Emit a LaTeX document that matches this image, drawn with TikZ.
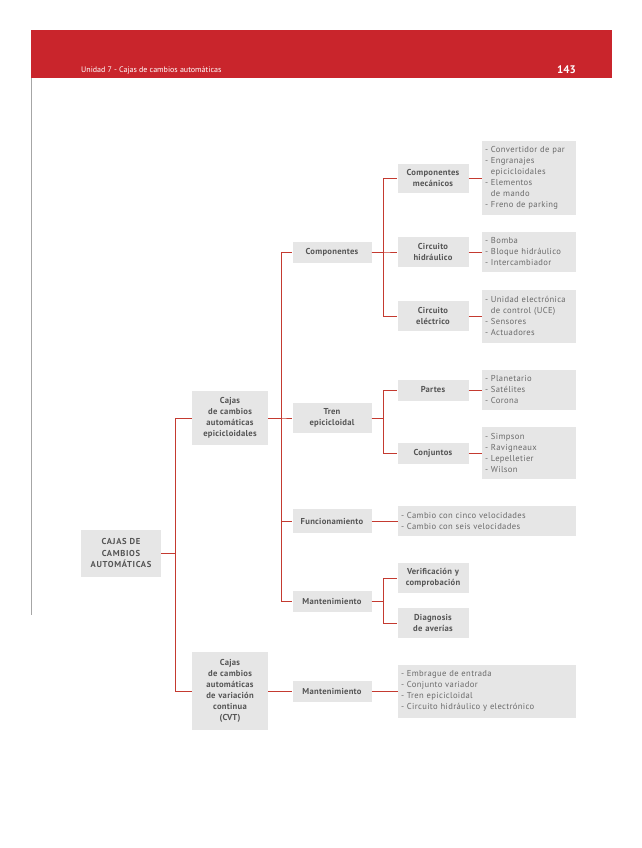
\documentclass[tikz,border=0pt]{standalone}
\usepackage{fontspec}
\setsansfont{PT Sans}
\usepackage{tikz}
\usetikzlibrary{positioning}
\definecolor{libroRed}{HTML}{C9252C}
\definecolor{libroLink}{HTML}{C43A30}
\definecolor{libroBox}{HTML}{E6E6E6}
\definecolor{libroInk}{HTML}{555555}
\definecolor{libroText}{HTML}{6A6A6A}

\begin{document}
\begin{tikzpicture}[
  x=1pt, y=-1pt,
  font=\sffamily\fontsize{8}{11}\selectfont,
  caja/.style={fill=libroBox, text=libroInk, align=center, inner xsep=4pt, inner ysep=0pt,
    font=\sffamily\bfseries\addfontfeatures{LetterSpace=3}\fontsize{8.6}{11}\selectfont},
  raiz/.style={caja, text width=72pt, minimum height=47pt,
    font=\sffamily\bfseries\addfontfeatures{LetterSpace=8}\fontsize{8.6}{11.5}\selectfont},
  tipo/.style={caja, text width=68pt},
  rama/.style={caja, text width=71pt},
  sub/.style={caja, text width=63pt},
  lista/.style={fill=libroBox, text=libroText, align=left, text width=88pt, inner xsep=3pt, inner ysep=0pt,
    font=\sffamily\addfontfeatures{LetterSpace=4}\fontsize{8.6}{11}\selectfont},
  listaw/.style={lista, text width=172pt},
  link/.style={draw=libroLink, line width=1pt}
]
  \useasboundingbox (0,0) rectangle (642,848);

  % page header
  \fill[libroRed] (31,30) rectangle (612,78);
  \draw[black!35, line width=0.8pt] (31,78) -- (31,615);
  \node[anchor=west, text=white, inner sep=0pt, font=\sffamily\fontsize{8}{9}\selectfont] (unidad) at (81,70) {Unidad 7 - Cajas de cambios automáticas};
  \node[anchor=east, text=white, inner sep=0pt, font=\sffamily\bfseries\fontsize{11}{13}\selectfont] (pagina) at (576,70) {143};

  % levels 0 and 1
  \node[raiz] (raiz) at (121,553) {CAJAS DE\\CAMBIOS\\AUTOMÁTICAS};
  \node[tipo, minimum height=54pt] (epi) at (230,418) {Cajas\\de cambios\\automáticas\\epicicloidales};
  \node[tipo, minimum height=78pt] (cvt) at (230,691) {Cajas\\de cambios\\automáticas\\de variación\\continua\\(CVT)};

  % level 2
  \node[rama, minimum height=21pt] (comp) at (332,252) {Componentes};
  \node[rama, minimum height=30pt] (tren) at (332,418) {Tren\\epicicloidal};
  \node[rama, minimum height=24pt] (func) at (332,521) {Funcionamiento};
  \node[rama, minimum height=21pt] (mant) at (332,601) {Mantenimiento};
  \node[rama, minimum height=21pt] (mantcvt) at (332,691) {Mantenimiento};

  % level 3
  \node[sub, minimum height=29pt] (mec) at (433,178) {Componentes\\mecánicos};
  \node[sub, minimum height=30pt] (hid) at (433,252) {Circuito\\hidráulico};
  \node[sub, minimum height=30pt] (ele) at (433,316) {Circuito\\eléctrico};
  \node[sub, minimum height=21pt] (partes) at (433,390) {Partes};
  \node[sub, minimum height=21pt] (conj) at (433,453) {Conjuntos};
  \node[sub, minimum height=30pt] (verif) at (433,578) {Verificación y\\comprobación};
  \node[sub, minimum height=30pt] (diag) at (433,623) {Diagnosis\\de averías};

  % lists
  \node[lista, minimum height=74pt] (lmec) at (529,178) {- Convertidor de par\\- Engranajes\\\phantom{- }epicicloidales\\- Elementos\\\phantom{- }de mando\\- Freno de parking};
  \node[lista, minimum height=40pt] (lhid) at (529,252) {- Bomba\\- Bloque hidráulico\\- Intercambiador};
  \node[lista, minimum height=53pt] (lele) at (529,316) {- Unidad electrónica\\\phantom{- }de control (UCE)\\- Sensores\\- Actuadores};
  \node[lista, minimum height=40pt] (lpartes) at (529,390) {- Planetario\\- Satélites\\- Corona};
  \node[lista, minimum height=52pt] (lconj) at (529,453) {- Simpson\\- Ravigneaux\\- Lepelletier\\- Wilson};
  \node[listaw, minimum height=30pt] (lfunc) at (487,521) {- Cambio con cinco velocidades\\- Cambio con seis velocidades};
  \node[listaw, minimum height=53pt] (lcvt) at (487,691) {- Embrague de entrada\\- Conjunto variador\\- Tren epicicloidal\\- Circuito hidráulico y electrónico};

  % connectors
  \foreach \b in {epi,cvt}
    \draw[link] (raiz.east) -- ++(14,0) |- (\b.west);
  \foreach \b in {comp,tren,func,mant}
    \draw[link] (epi.east) -- ++(13,0) |- (\b.west);
  \draw[link] (cvt.east) -- (mantcvt.west);
  \foreach \b in {mec,hid,ele}
    \draw[link] (comp.east) -- ++(12,0) |- (\b.west);
  \foreach \b in {partes,conj}
    \draw[link] (tren.east) -- ++(12,0) |- (\b.west);
  \foreach \b in {verif,diag}
    \draw[link] (mant.east) -- ++(12,0) |- (\b.west);
  \foreach \a/\b in {mec/lmec,hid/lhid,ele/lele,partes/lpartes,conj/lconj}
    \draw[link] (\a.east) -- (\b.west);
  \draw[link] (func.east) -- (lfunc.west);
  \draw[link] (mantcvt.east) -- (lcvt.west);
\end{tikzpicture}
\end{document}
